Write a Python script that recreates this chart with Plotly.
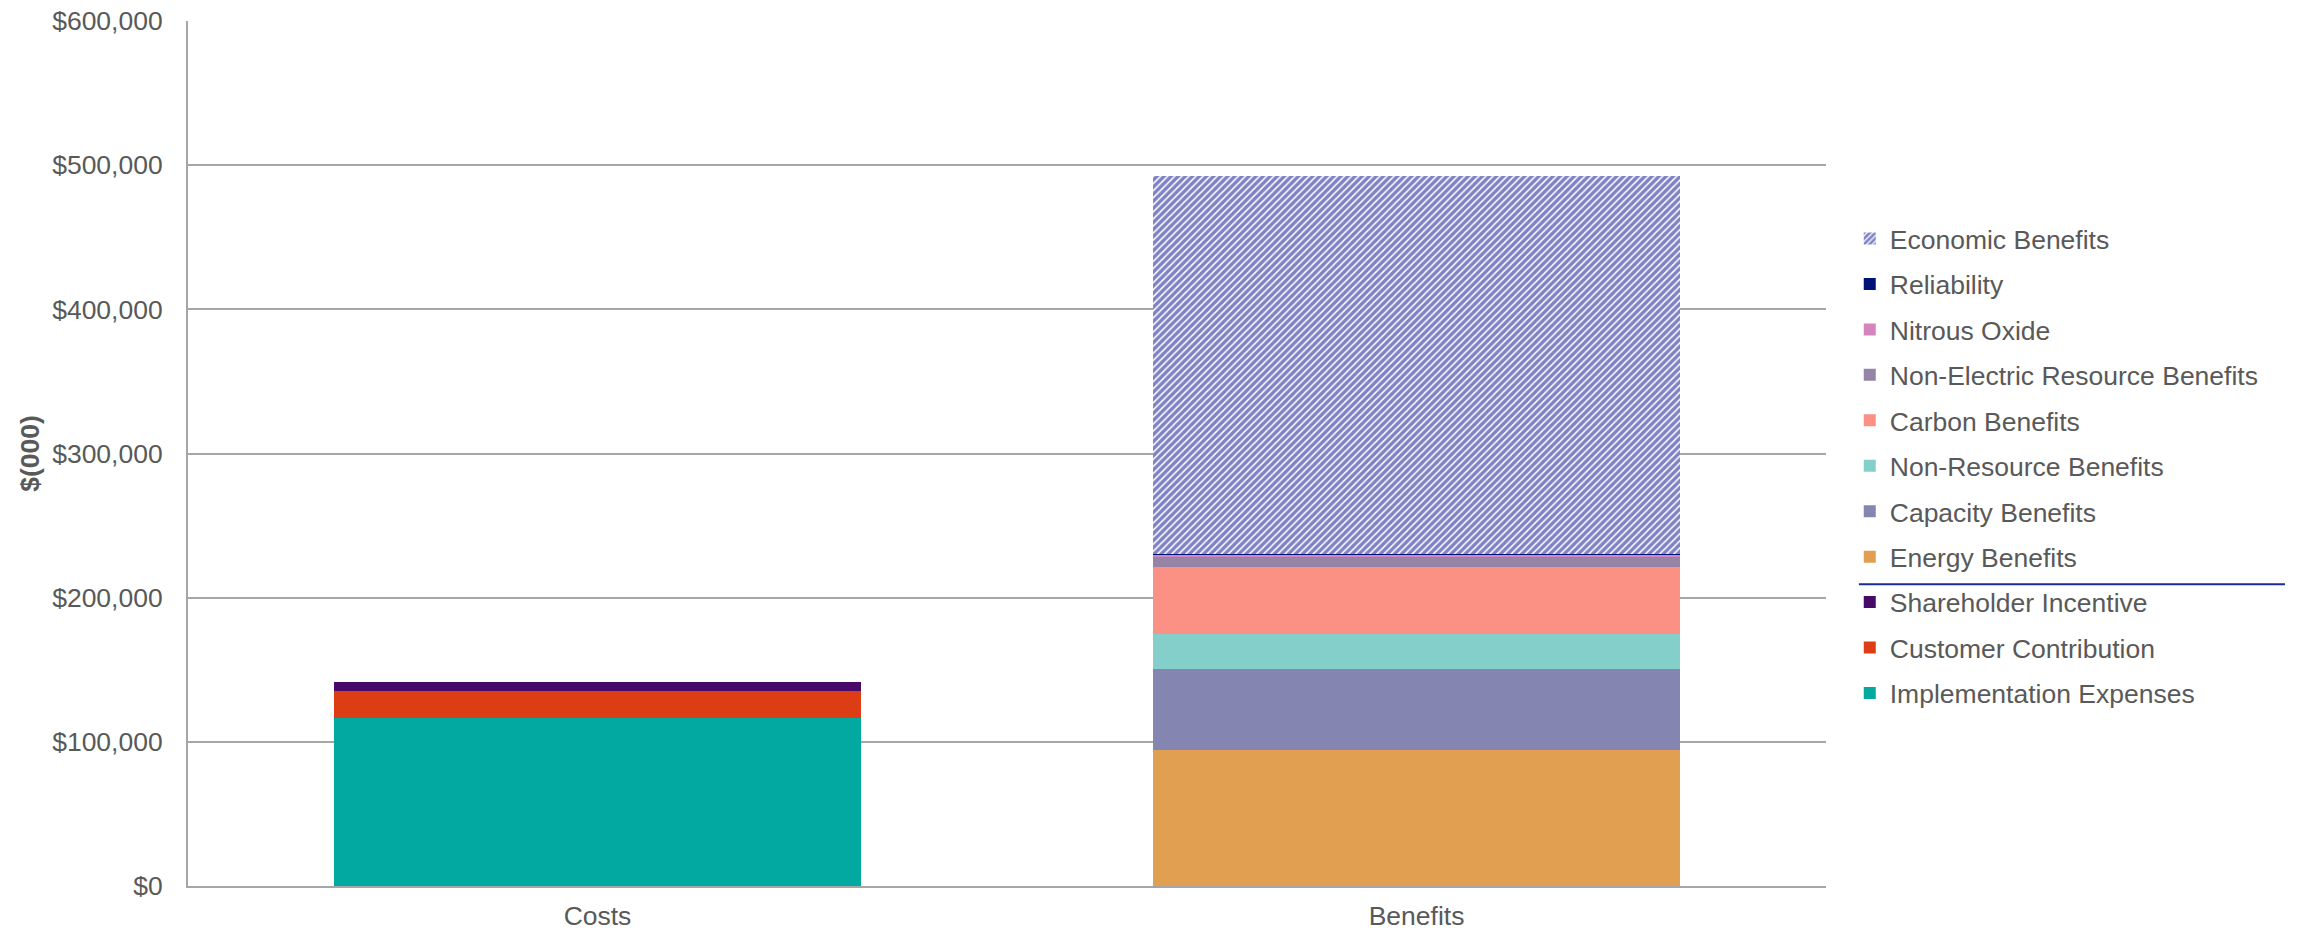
import plotly.graph_objects as go

categories = ["Costs", "Benefits"]

# Cost components ($000), stacked on the "Costs" bar
cost_names = ["Implementation Expenses", "Customer Contribution", "Shareholder Incentive"]
cost_values = [116500, 19100, 6200]
cost_colors = ["#02A9A1", "#DC3D14", "#480A68"]

# Benefit components ($000), stacked on the "Benefits" bar
benefit_names = [
    "Energy Benefits",
    "Capacity Benefits",
    "Non-Resource Benefits",
    "Carbon Benefits",
    "Non-Electric Resource Benefits",
    "Nitrous Oxide",
    "Reliability",
    "Economic Benefits",
]
benefit_values = [94500, 55800, 24600, 46500, 7100, 1400, 100, 262500]
benefit_colors = ["#E19F51", "#8585B1", "#84CFC9", "#FB9185", "#9484A5", "#D585BD", "#001278", "#00088C"]

y_ticks = [0, 100000, 200000, 300000, 400000, 500000, 600000]
y_tick_text = ["$0", "$100,000", "$200,000", "$300,000", "$400,000", "$500,000", "$600,000"]

TEXT = "#595959"
FONT = "Liberation Sans, Arial, sans-serif"
FS = 26.5

fig = go.Figure()

# Stack order bottom-up; legend lists the topmost segment first
n_total = len(cost_names) + len(benefit_names)
rank = n_total

for name, val, col in zip(cost_names, cost_values, cost_colors):
    fig.add_trace(go.Bar(
        x=[categories[0]], y=[val], name=name, legendgroup=name, legendrank=rank,
        marker=dict(color=col, line=dict(width=0)),
    ))
    rank -= 1

for name, val, col in zip(benefit_names, benefit_values, benefit_colors):
    if name == "Economic Benefits":
        marker = dict(
            color="white",
            line=dict(width=0),
            pattern=dict(shape="/", fgcolor=col, bgcolor="white", size=5, solidity=0.7),
        )
    else:
        marker = dict(color=col, line=dict(width=0))
    fig.add_trace(go.Bar(
        x=[categories[1]], y=[val], name=name, legendgroup=name, legendrank=rank,
        marker=marker,
    ))
    rank -= 1

fig.update_layout(
    width=2303,
    height=932,
    barmode="stack",
    bargap=0.356,
    plot_bgcolor="white",
    paper_bgcolor="white",
    margin=dict(l=188, r=477, t=21, b=46, autoexpand=False),
    font=dict(family=FONT, size=FS, color=TEXT),
    showlegend=True,
    legend=dict(
        traceorder="grouped",
        tracegroupgap=8,
        x=1.0145, xanchor="left",
        y=0.776, yanchor="top",
        font=dict(family=FONT, size=FS, color=TEXT),
        bgcolor="rgba(0,0,0,0)",
        itemclick=False,
    ),
    xaxis=dict(
        categoryorder="array",
        categoryarray=categories,
        showgrid=False,
        showline=True,
        linecolor="#A6A6A6",
        linewidth=2,
        ticks="",
        automargin=False,
        ticklabelstandoff=5,
        tickfont=dict(family=FONT, size=FS, color=TEXT),
    ),
    yaxis=dict(
        range=[0, 600000],
        tickvals=y_ticks,
        ticktext=y_tick_text,
        showgrid=True,
        gridcolor="#A6A6A6",
        gridwidth=2,
        showline=True,
        linecolor="#A6A6A6",
        linewidth=2,
        zeroline=False,
        ticks="",
        automargin=False,
        ticklabelstandoff=18,
        tickfont=dict(family=FONT, size=FS, color=TEXT),
        title=dict(
            text="<b>$(000)</b>",
            font=dict(family=FONT, size=FS, color=TEXT),
            standoff=5,
        ),
    ),
)

# Divider between benefit and cost entries in the legend
fig.add_shape(
    type="line", xref="paper", yref="paper",
    x0=1.0201, x1=1.2802, y0=0.3488, y1=0.3488,
    line=dict(color="#1A2B9E", width=2),
)

fig.write_html("out.html")
